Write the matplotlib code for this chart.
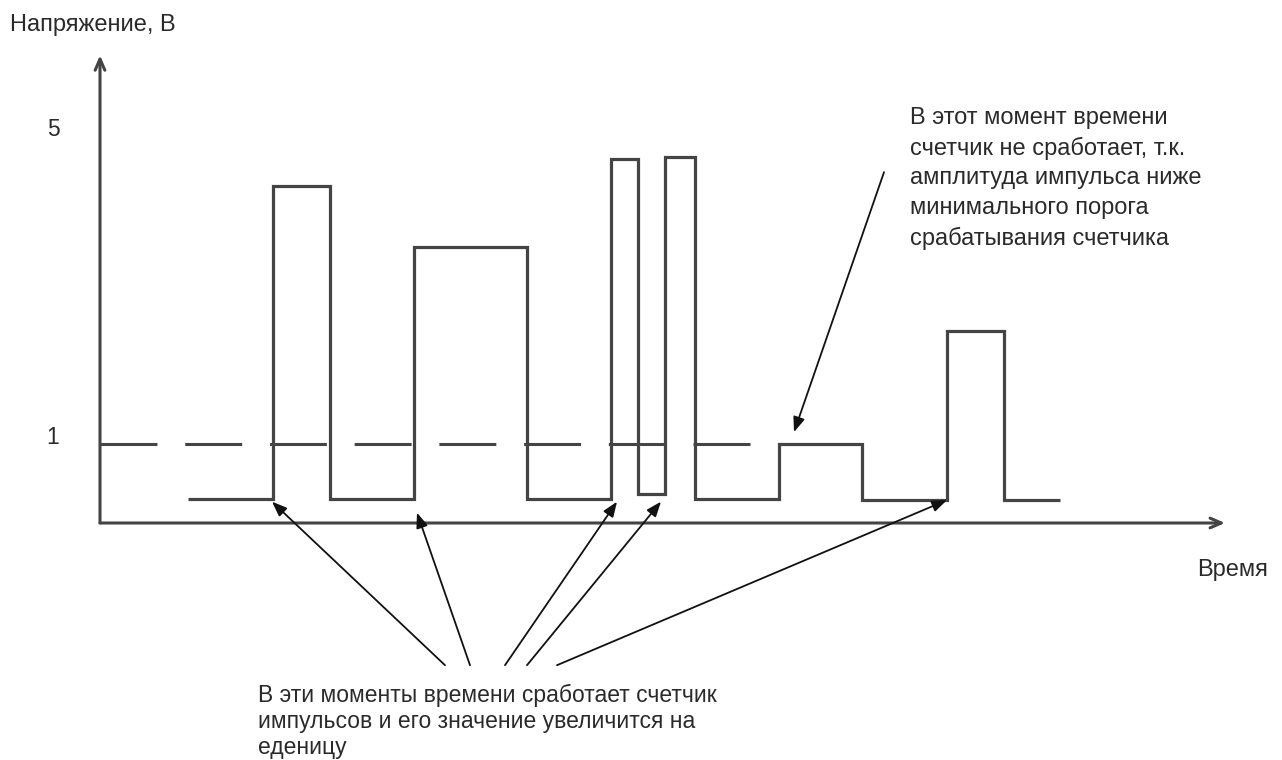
import matplotlib
matplotlib.use("Agg")
import matplotlib.pyplot as plt

plt.rcParams['font.family'] = ['Liberation Sans', 'DejaVu Sans']
plt.rcParams['lines.scale_dashes'] = False

# Signal: step edges (time, arbitrary units) and voltage levels (V)
edges = [8.8, 17.3, 23.0, 31.4, 42.7, 51.1, 53.8, 56.5, 59.5, 67.9, 76.2, 84.7, 90.4, 96.0]
levels = [0.30, 4.27, 0.30, 3.49, 0.30, 4.61, 0.37, 4.63, 0.30, 1.00, 0.29, 2.43, 0.29]

threshold = 1.0
threshold_end = 65.5
ytick_vals = [5, 1]
ytick_labels = ["5", "1"]

# counted pulse fronts (arrow targets) and arrow tails
hit_t = [17.2, 31.7, 51.7, 56.1, 84.7]
hit_v = [0.27, 0.13, 0.27, 0.27, 0.29]
tail_t = [34.5, 37.0, 40.5, 42.7, 45.7]
tail_v = -1.80

miss_tip = (69.4, 1.15)
miss_tail = (78.4, 4.44)

ylabel = "Напряжение, В"
xlabel = "Время"
note_top = ("В этот момент времени\nсчетчик не сработает, т.к.\n"
            "амплитуда импульса ниже\nминимального порога\nсрабатывания счетчика")
note_bottom = ("В эти моменты времени сработает счетчик\n"
               "импульсов и его значение увеличится на\nеденицу")

fig = plt.figure(figsize=(12.82, 7.6), dpi=100)
ax = fig.add_axes([0, 0, 1, 1])
ax.set_xlim(-10, 118.2)
ax.set_ylim(-3.0, 6.62)
ax.axis('off')

line_col = '#444444'
txt_col = '#2a2a2a'
# axes arrows
ax.annotate('', xy=(112.5, 0), xytext=(0, 0),
            arrowprops=dict(arrowstyle='->,head_length=0.8,head_width=0.35', color=line_col, lw=2.2,
                            shrinkA=0, shrinkB=0))
ax.annotate('', xy=(0, 5.92), xytext=(0, 0),
            arrowprops=dict(arrowstyle='->,head_length=0.8,head_width=0.35', color=line_col, lw=2.2,
                            shrinkA=0, shrinkB=0))

# threshold dashed line
ax.plot([0, threshold_end], [threshold, threshold], color=line_col, lw=2.2,
        linestyle=(0, (41, 20)), solid_capstyle='butt', dash_capstyle='butt')

# signal
ax.stairs(levels, edges, baseline=None, color=line_col, lw=2.3)

# tick labels
ax.text(-4.7, ytick_vals[0] - 0.02, ytick_labels[0], fontsize=16.5, ha='center', va='center', color=txt_col)
ax.text(-4.75, ytick_vals[1] + 0.08, ytick_labels[1], fontsize=16.5, ha='center', va='center', color=txt_col)

ax.text(-9.0, 6.30, ylabel, fontsize=17, ha='left', va='center', color=txt_col)
ax.text(109.7, -0.59, xlabel, fontsize=17, ha='left', va='center', color=txt_col)

ax.text(81.0, 5.27, note_top, fontsize=17, ha='left', va='top', linespacing=1.44, color=txt_col)
ax.text(15.8, -2.03, note_bottom, fontsize=16.5, ha='left', va='top', linespacing=1.18, color=txt_col)

arrow_props = dict(arrowstyle='-|>,head_length=0.9,head_width=0.35', color='#111111', lw=1.3,
                   shrinkA=0, shrinkB=0)
for tt, ht, hv in zip(tail_t, hit_t, hit_v):
    ax.annotate('', xy=(ht, hv), xytext=(tt, tail_v), arrowprops=arrow_props)
ax.annotate('', xy=miss_tip, xytext=miss_tail, arrowprops=arrow_props)

fig.savefig('out.png', dpi=100)
